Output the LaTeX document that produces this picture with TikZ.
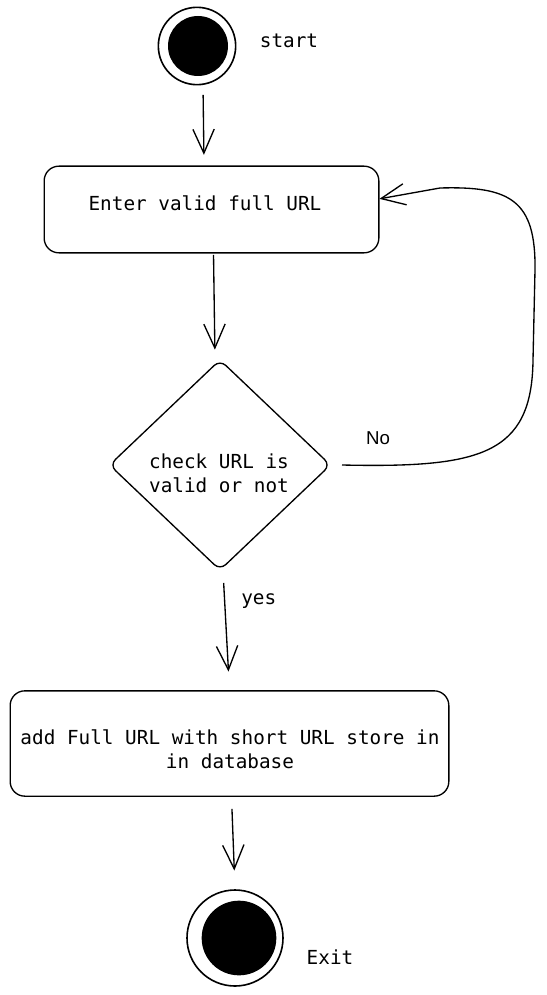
\documentclass[tikz,border=0pt]{standalone}
\usepackage{fontspec}
\setmainfont{DejaVu Sans Mono}
\setsansfont{Liberation Sans}
\usepackage{tikz}
\usetikzlibrary{shapes.geometric, arrows.meta}

\begin{document}
\begin{tikzpicture}[x=0.75pt, y=-0.75pt,
  font=\fontsize{14.5}{18}\selectfont,
  every node/.style={inner sep=0pt},
  flow/.style={line width=1pt, -{Straight Barb[length=18pt, width=16pt, line width=1pt]}},
  stepbox/.style={draw, line width=1pt, rounded corners=11pt},
  check/.style={draw, line width=1pt, diamond, rounded corners=6pt,
    minimum width=166pt, minimum height=158pt},
  outer/.style={draw, line width=1.2pt, circle},
  inner/.style={fill=black, circle}]

\useasboundingbox (0,0) rectangle (546,995);

% inicio
\node[outer, minimum size=58pt] (start) at (197,46) {};
\node[inner, minimum size=45pt] at (198,46) {};
\node (startlbl) at (289,41) {start};

% caixas
\node[stepbox, minimum width=251pt, minimum height=65pt] (enter) at (211.5,209.5) {};
\node (entertxt) at (205,203) {Enter valid full URL};
\node[check] (dec) at (220,465) {};
\node[align=center] (dectxt) at (219,473) {check URL is\\valid or not};
\node[stepbox, minimum width=329pt, minimum height=79pt] (store) at (229.5,743.5) {};
\node[align=center] (storetxt) at (230,749) {add Full URL with short URL store in\\in database};

% fim
\node[outer, minimum size=72pt] (exit) at (235,938) {};
\node[inner, minimum size=56pt] at (239,938) {};
\node (exitlbl) at (330,957) {Exit};

% setas
\draw[flow, shorten <=7pt, shorten >=8pt] ([xshift=4.5pt]start.south) -- ([xshift=-5.6pt]enter.north);
\draw[flow, shorten <=1pt, shorten >=7pt] ([xshift=1.5pt]enter.south) -- ([xshift=-3.75pt]dec.north);
\draw[flow, shorten <=9pt, shorten >=14pt] ([xshift=2.25pt]dec.south) -- (store.north)
  node[pos=0.25, right=12pt] {yes};
\draw[flow, shorten <=9pt, shorten >=14pt] ([xshift=1.5pt]store.south) -- (exit.north);

% volta
\draw[flow] ([xshift=8pt]dec.east) .. controls (480,468) and (532,455) .. (533,360)
  -- (535,270) .. controls (536,200) and (510,186) .. (440,188) -- ([yshift=8pt]enter.east);
\node[font=\sffamily\fontsize{14}{16}\selectfont] (nolbl) at (378,438) {No};

\end{tikzpicture}
\end{document}
